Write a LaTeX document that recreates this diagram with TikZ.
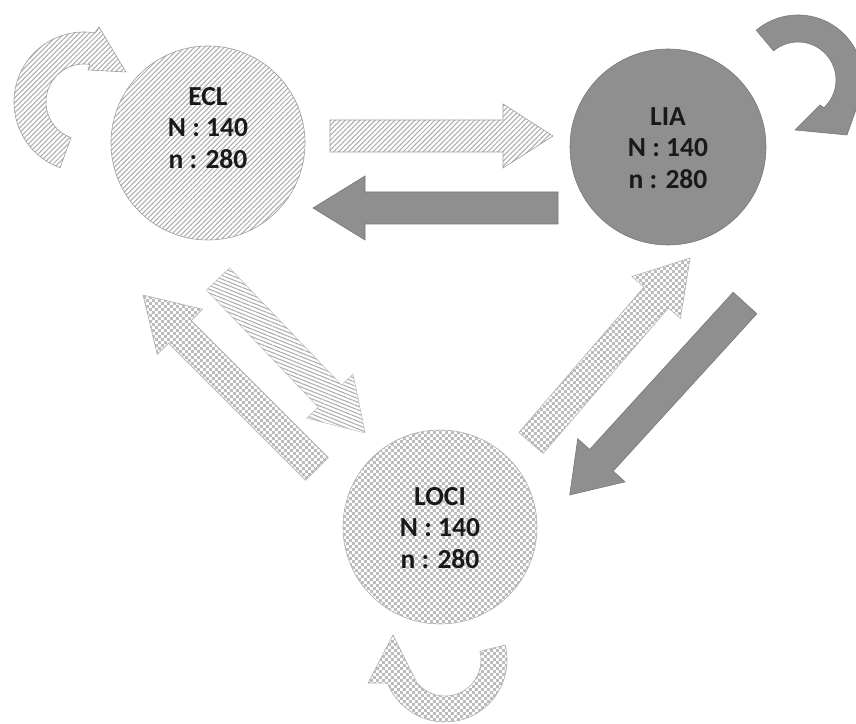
\documentclass[tikz,border=0pt]{standalone}
\usepackage{fontspec}
\setmainfont{Carlito}
\usetikzlibrary{patterns,patterns.meta}
\definecolor{solidg}{RGB}{143,143,143}
\definecolor{solide}{RGB}{118,118,118}
\definecolor{hatchc}{RGB}{172,172,172}
\definecolor{checkc}{RGB}{188,188,188}
\definecolor{edgec}{RGB}{155,155,155}
\definecolor{txtc}{RGB}{25,25,25}
\pgfdeclarepattern{name=finecheck, type=uncolored,
  bottom left={\pgfpointorigin}, top right={\pgfqpoint{5.1pt}{5.1pt}},
  tile size={\pgfqpoint{5.1pt}{5.1pt}},
  code={\pgfpathrectangle{\pgfpointorigin}{\pgfqpoint{2.55pt}{2.55pt}}%
        \pgfpathrectangle{\pgfqpoint{2.55pt}{2.55pt}}{\pgfqpoint{2.55pt}{2.55pt}}%
        \pgfusepath{fill}}}
\newcommand\blockarr[5]{%
  \begin{scope}[shift={(#2)}, rotate=#3]
    \path[#1] (0,-16) -- ({#4-#5},-16) -- ({#4-#5},-32) -- (#4,0)
      -- ({#4-#5},32) -- ({#4-#5},16) -- (0,16) -- cycle;
  \end{scope}}
\begin{document}
\begin{tikzpicture}[x=0.03cm,y=0.03cm,
  hatchA/.style={pattern={Lines[angle=45,distance=3pt,line width=0.9pt]}, pattern color=hatchc, draw=edgec, line width=0.5pt},
  hatchB/.style={pattern={Lines[angle=-22,distance=3pt,line width=0.9pt]}, pattern color=hatchc, draw=edgec!70, line width=0.4pt},
  checkf/.style={pattern=finecheck, pattern color=checkc, draw=edgec!80, line width=0.5pt},
  solidf/.style={fill=solidg, draw=solide, line width=0.5pt},
  lbl/.style={font=\bfseries\fontsize{23.5}{27}\selectfont, text=txtc, align=center, inner sep=0pt},
  bubble/.style={circle, inner sep=0pt}]
\useasboundingbox (0,0) rectangle (856,724);
\clip (0,0) rectangle (856,724);

% circles
\node[bubble, hatchA, minimum size=5.82cm] (ECL) at (208,581) {};
\node[bubble, solidf, minimum size=5.88cm] (LIA) at (668,577) {};
\node[bubble, checkf, minimum size=5.82cm] (LOCI) at (440,197) {};
\node[lbl] (ECLt) at (208,596) {ECL\\N : 140\\n : 280};
\node[lbl] (LIAt) at (668,576) {LIA\\N : 140\\n : 280};
\node[lbl] (LOCIt) at (440,196) {LOCI\\N : 140\\n : 280};

% arrow tails
\coordinate (a1) at (330,588);
\coordinate (a2) at (558,516);
\coordinate (a3) at (218,445);
\coordinate (a4) at (317,255);
\coordinate (a5) at (531,281);
\coordinate (a6) at (745,421);
\blockarr{hatchA}{a1}{0}{223}{50}
\blockarr{solidf}{a2}{180}{245}{52}
\blockarr{hatchB}{a3}{-46.3}{213}{51}
\blockarr{checkf}{a4}{135}{246}{52}
\blockarr{checkf}{a5}{49.3}{244}{52}
\blockarr{solidf}{a6}{227.6}{260}{47}

% self loops
\coordinate (l1) at (84,622);
\coordinate (l2) at (798,644);
\coordinate (l3) at (445,64);
\begin{scope}[shift={(l1)}]
  \path[hatchA] (250:70) arc[start angle=250,end angle=81,radius=70]
    -- (15,75) -- (42,30) -- (4,32) -- (81:38)
    arc[start angle=81,end angle=250,radius=38] -- cycle;
\end{scope}
\begin{scope}[shift={(l2)}]
  \path[solidf] (130:65) arc[start angle=130,end angle=14,radius=65]
    -- (80,32) -- (49,-55) -- (-3,-50) -- (22,-25) -- (-47:38)
    arc[start angle=-47,end angle=130,radius=38] -- cycle;
\end{scope}
\begin{scope}[shift={(l3)}]
  \path[checkf] (14:62) arc[start angle=14,end angle=-158,radius=62]
    -- (-77,-23) -- (-52,25) -- (-28,-23) -- (-140:36)
    arc[start angle=-140,end angle=14,radius=36] -- cycle;
\end{scope}
\end{tikzpicture}
\end{document}
